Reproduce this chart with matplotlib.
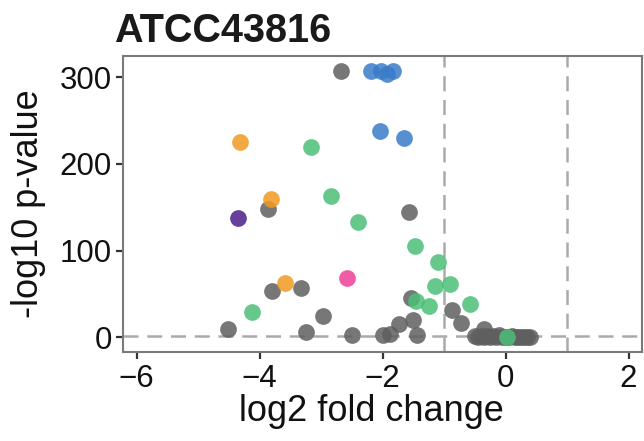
import matplotlib
matplotlib.use("Agg")
import matplotlib.pyplot as plt

plt.rcParams['font.family'] = ['Liberation Sans', 'DejaVu Sans']

# Data (log2 fold change, -log10 p-value), grouped by colour category
gray_x = [-2.68, -3.87, -1.57, -3.79, -3.33, -1.53, -2.97, -4.51, -3.24, -2.50,
          -2.00, -1.88, -1.74, -1.50, -1.44, -0.87, -0.72, -0.35,
          -0.50, -0.45, -0.40, -0.35, -0.30, -0.25, -0.20, -0.15, -0.10, -0.05,
          0.00, 0.05, 0.10, 0.15, 0.20, 0.25, 0.30, 0.35, 0.40]
gray_y = [307, 148, 145, 54, 57, 45, 25, 10, 6, 2.3,
          2.3, 4, 16, 20, 3, 32, 17, 10,
          1.5, 0.8, 2.0, 0.5, 1.2, 0.3, 1.8, 0.6, 2.5, 0.4,
          1.0, 0.2, 1.6, 0.7, 0.3, 1.1, 0.5, 0.9, 0.4]

blue_x = [-2.19, -2.02, -1.92, -1.83, -2.04, -1.65]
blue_y = [307, 307, 304, 307, 238, 230]

orange_x = [-4.32, -3.82, -3.59]
orange_y = [225, 160, 62.7]

green_x = [-3.16, -2.84, -2.40, -1.48, -1.10, -1.14, -0.90, -1.45, -1.24, -0.58, -4.13, 0.03]
green_y = [220, 163, 133, 106, 86.5, 58.8, 62, 41.5, 36.5, 38.5, 29, 0]

purple_x = [-4.35]
purple_y = [138]

pink_x = [-2.58]
pink_y = [68.5]

fc_cut = [-1, 1]
p_cut = 1.3

x_ticks = [-6, -4, -2, 0, 2]
y_ticks = [0, 100, 200, 300]

fig = plt.figure(figsize=(6.44, 4.41), dpi=100)
ax = fig.add_axes([0.191, 0.2007, 0.806, 0.6733])

dash_kw = dict(color='#aaaaaa', lw=1.8, dashes=(6, 3.5), zorder=1)
for v in fc_cut:
    ax.axvline(v, **dash_kw)
ax.axhline(p_cut, **dash_kw)

s = 145
al = 0.85
ax.scatter(gray_x, gray_y, s=s, color='#5f5f5f', alpha=al, lw=0, zorder=3)
ax.scatter(blue_x, blue_y, s=s, color='#3a7cc8', alpha=al, lw=0, zorder=4)
ax.scatter(orange_x, orange_y, s=s, color='#f29a22', alpha=al, lw=0, zorder=4)
ax.scatter(green_x, green_y, s=s, color='#4cbf78', alpha=al, lw=0, zorder=4)
ax.scatter(purple_x, purple_y, s=s, color='#4b1f8a', alpha=al, lw=0, zorder=4)
ax.scatter(pink_x, pink_y, s=s, color='#ef3f97', alpha=al, lw=0, zorder=4)

ax.set_xlim(-6.22, 2.22)
ax.set_ylim(-17.3, 325)
ax.set_xticks(x_ticks)
ax.set_yticks(y_ticks)

for sp in ax.spines.values():
    sp.set_color('#7a7a7a')
    sp.set_linewidth(1.5)

ax.tick_params(axis='both', length=5, width=1.6, color='#333333',
               labelsize=22.5, labelcolor='#111111', pad=3)

ax.set_xlabel('log2 fold change', fontsize=26, color='#111111')
ax.set_ylabel('-log10 p-value', fontsize=26, color='#111111')
ax.xaxis.set_label_coords(0.478, -0.14)
ax.yaxis.set_label_coords(-0.148, 0.5)

fig.text(0.177, 0.905, 'ATCC43816', fontsize=28.5, fontweight='bold',
         color='#1a1a1a', ha='left', va='baseline')

fig.savefig('out.png', dpi=100)
